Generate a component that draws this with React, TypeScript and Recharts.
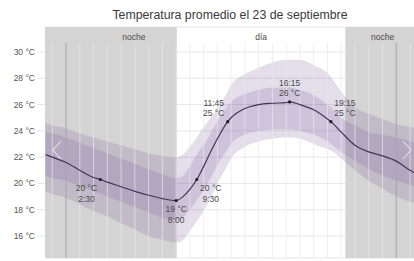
import {
  ComposedChart, Area, Line, Scatter, XAxis, YAxis, CartesianGrid,
  ReferenceArea, ReferenceLine,
} from 'recharts'

const TITLE = 'Temperatura promedio el 23 de septiembre'

// hour of day (negative = previous evening, >24 = next morning)
const HOURS = [-1.5, -1, 0, 1, 2, 2.5, 3, 4, 5, 6, 7, 8, 8.5, 9, 9.5, 10, 10.5, 11, 11.75, 12, 13, 14, 15, 16, 16.25, 17, 18, 19, 19.25, 20, 21, 22, 23, 24, 25, 25.5]
const MEAN = [22.2, 22.0, 21.6, 21.0, 20.45, 20.3, 20.1, 19.75, 19.4, 19.1, 18.85, 18.7, 19.0, 19.55, 20.3, 21.3, 22.4, 23.4, 24.7, 25.0, 25.7, 26.0, 26.1, 26.15, 26.2, 26.0, 25.6, 24.9, 24.7, 23.9, 22.9, 22.4, 22.1, 21.7, 21.0, 20.7]
const INNER_HI = [23.9, 23.8, 23.5, 23.1, 22.7, 22.5, 22.3, 21.9, 21.5, 21.1, 20.7, 20.4, 20.6, 21.3, 22.2, 22.9, 23.8, 24.7, 25.9, 26.2, 26.8, 27.1, 27.3, 27.3, 27.3, 27.1, 26.7, 26.0, 25.8, 25.0, 24.4, 23.9, 23.7, 23.5, 23.2, 23.0]
const INNER_LO = [20.6, 20.4, 20.2, 19.8, 19.4, 19.2, 19.0, 18.6, 18.2, 17.8, 17.4, 17.2, 17.4, 18.0, 18.7, 19.5, 20.4, 21.4, 22.6, 23.0, 23.7, 24.0, 24.1, 24.1, 24.1, 24.0, 23.7, 23.2, 23.0, 22.4, 21.7, 21.1, 20.6, 20.2, 19.9, 19.7]
const OUTER_HI = [24.6, 24.4, 24.2, 23.8, 23.5, 23.35, 23.2, 22.9, 22.6, 22.3, 22.1, 22.0, 22.2, 22.8, 23.5, 24.3, 25.0, 25.7, 27.0, 27.5, 28.3, 28.8, 29.2, 29.4, 29.4, 29.4, 29.0, 28.4, 28.1, 27.0, 25.8, 25.3, 24.9, 24.5, 24.3, 24.2]
const OUTER_LO = [19.4, 19.2, 18.9, 18.4, 17.9, 17.7, 17.5, 17.0, 16.5, 16.0, 15.7, 15.5, 15.7, 16.4, 17.1, 17.9, 18.9, 20.0, 21.4, 21.9, 22.8, 23.2, 23.4, 23.5, 23.5, 23.4, 23.0, 22.6, 22.5, 21.9, 21.0, 20.2, 19.6, 19.0, 18.6, 18.5]

// highlighted points
const MARK_HOURS = [2.5, 8, 9.5, 11.75, 16.25, 19.25]
const MARK_TIMES = ['2:30', '8:00', '9:30', '11:45', '16:15', '19:15']
const MARK_TEMPS = [20, 19, 20, 25, 26, 25]

const Y_TICKS = [16, 18, 20, 22, 24, 26, 28, 30]
const HOUR_LINES = [-1, 0, 1, 2, 3, 4, 5, 6, 7, 8, 9, 10, 11, 12, 13, 14, 15, 16, 17, 18, 19, 20, 21, 22, 23, 24, 25]
const MIDNIGHTS = [0, 24]

const SUNRISE = 8.05
const SUNSET = 20.3

const X_MIN = -1.53
const X_MAX = 25.29
const Y_MIN = 14.33
const Y_MAX = 31.9
const GRID_TOP = 30.68

const FONT = '"Liberation Sans", Arial, sans-serif'
const BAND = '#7a5a9a'

// where each point's label goes, in the same order as MARK_HOURS
const PLACEMENT = [
  { dx: -14, above: false },
  { dx: 0, above: false },
  { dx: 14, above: false },
  { dx: -14, above: true },
  { dx: 0, above: true },
  { dx: 14, above: true },
]

const rows = HOURS.map((h, i) => ({
  h,
  mean: MEAN[i],
  inner: [INNER_LO[i], INNER_HI[i]],
  outer: [OUTER_LO[i], OUTER_HI[i]],
}))

const marks = MARK_HOURS.map((h, i) => ({
  h,
  mean: MEAN[HOURS.indexOf(h)],
  idx: i,
}))

function MarkShape(props: any) {
  const { cx, cy, payload } = props
  if (cx == null || cy == null) return null
  const i = payload.idx
  const p = PLACEMENT[i]
  const temp = `${MARK_TEMPS[i]} °C`
  const time = MARK_TIMES[i]
  const lines = p.above ? [time, temp] : [temp, time]
  const ys = p.above ? [cy - 19, cy - 8.5] : [cy + 8, cy + 19.5]
  return (
    <g>
      <circle cx={cx} cy={cy} r={1.6} fill="#1e1e1e" />
      {lines.map((t, k) => (
        <text key={k} x={cx + p.dx} y={ys[k]} textAnchor="middle" dominantBaseline="central"
          fontSize={8.5} fontFamily={FONT} fill="#4a4a4a">
          {t}
        </text>
      ))}
    </g>
  )
}

function headerLabel(text: string, dx: number) {
  return (props: any) => {
    const vb = props.viewBox
    if (!vb) return null
    return (
      <text x={vb.x + vb.width / 2 + dx} y={vb.y + 10} textAnchor="middle" dominantBaseline="central"
        fontSize={8.5} fontFamily={FONT} fill="#4a4a4a">
        {text}
      </text>
    )
  }
}

function Chevron({ left, flip }: { left: number; flip: boolean }) {
  return (
    <svg width={12} height={24} style={{ position: 'absolute', left, top: 139 }}>
      <polyline
        points={flip ? '2,2 10,11 2,20' : '10,2 2,11 10,20'}
        fill="none" stroke="#e4e4e4" strokeWidth={1.1} />
    </svg>
  )
}

export default function App() {
  return (
    <div style={{ position: 'absolute', left: 0, top: 0, width: 414, height: 261, overflow: 'hidden', background: '#fff', fontFamily: FONT }}>
      <div style={{ position: 'absolute', left: 45, top: 8, width: 370, textAlign: 'center', fontSize: 12.3, color: '#3a3a3a', lineHeight: '14px' }}>
        {TITLE}
      </div>
      <ComposedChart width={414} height={261} data={rows} margin={{ top: 27, right: 0, bottom: 3, left: 0 }}>
        <XAxis dataKey="h" type="number" domain={[X_MIN, X_MAX]} allowDataOverflow hide />
        <YAxis
          type="number"
          domain={[Y_MIN, Y_MAX]}
          allowDataOverflow
          ticks={Y_TICKS}
          interval={0}
          width={45}
          tickFormatter={(v: number) => `${v} °C`}
          tick={{ fontSize: 8.5, fontFamily: FONT, fill: '#555' }}
          axisLine={false}
          tickLine={{ stroke: '#e6e6e6' }}
          tickSize={8}
          tickMargin={2}
        />

        {/* night / day header and shading */}
        <ReferenceArea x1={X_MIN} x2={SUNRISE} y1={Y_MIN} y2={Y_MAX} fill="#d4d4d4" fillOpacity={1} stroke="none"
          label={headerLabel('noche', 23)} />
        <ReferenceArea x1={SUNRISE} x2={SUNSET} y1={Y_MIN} y2={Y_MAX} fill="#fff" fillOpacity={0} stroke="none"
          label={headerLabel('día', 0)} />
        <ReferenceArea x1={SUNSET} x2={X_MAX} y1={Y_MIN} y2={Y_MAX} fill="#d4d4d4" fillOpacity={1} stroke="none"
          label={headerLabel('noche', 3)} />

        <CartesianGrid vertical={false} stroke="#e6e6e6" />

        <Area dataKey="outer" type="monotone" fill={BAND} fillOpacity={0.2} stroke="none" isAnimationActive={false} />
        <Area dataKey="inner" type="monotone" fill={BAND} fillOpacity={0.2} stroke="none" isAnimationActive={false} />

        {HOUR_LINES.map(h => (
          <ReferenceLine key={h}
            segment={[{ x: h, y: Y_MIN }, { x: h, y: GRID_TOP }]}
            stroke={MIDNIGHTS.includes(h) ? '#a4a4a4' : 'rgba(232,232,232,0.7)'}
            strokeWidth={1} />
        ))}

        <Line dataKey="mean" type="monotone" stroke="#443458" strokeWidth={1.2} dot={false} isAnimationActive={false} />
        <Scatter data={marks} dataKey="mean" shape={MarkShape} isAnimationActive={false} />
      </ComposedChart>
      <Chevron left={51} flip={false} />
      <Chevron left={401} flip={true} />
    </div>
  )
}
